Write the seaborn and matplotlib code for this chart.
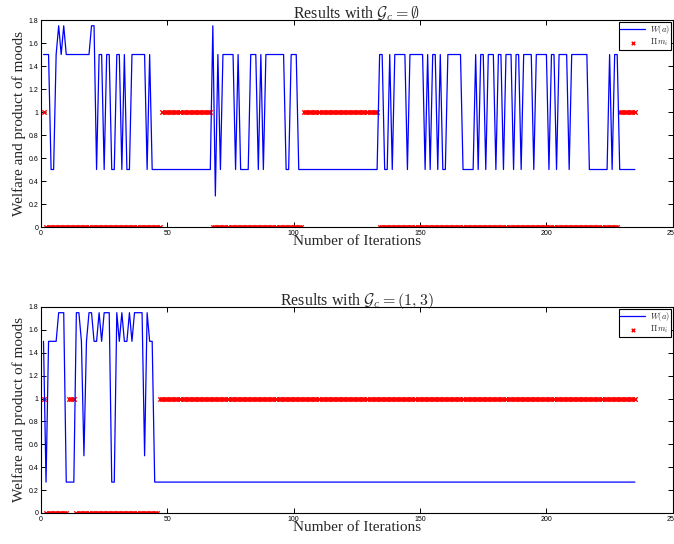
import pandas as pd
import matplotlib
matplotlib.use("Agg")
import matplotlib.pyplot as plt
import seaborn as sns

# welfare W(a) and product of moods, iterations 1..235
welfare_empty = [
    1.5, 1.5, 1.5, 0.5, 0.5, 1.5, 1.75, 1.5, 1.75, 1.5,
    1.5, 1.5, 1.5, 1.5, 1.5, 1.5, 1.5, 1.5, 1.5, 1.75,
    1.75, 0.5, 1.5, 1.5, 0.5, 1.5, 1.5, 0.5, 0.5, 1.5,
    1.5, 0.5, 1.5, 0.5, 0.5, 1.5, 1.5, 1.5, 1.5, 1.5,
    1.5, 0.5, 1.5, 0.5, 0.5, 0.5, 0.5, 0.5, 0.5, 0.5,
    0.5, 0.5, 0.5, 0.5, 0.5, 0.5, 0.5, 0.5, 0.5, 0.5,
    0.5, 0.5, 0.5, 0.5, 0.5, 0.5, 0.5, 1.75, 0.27, 1.5,
    0.5, 1.5, 1.5, 1.5, 1.5, 1.5, 0.5, 1.5, 0.5, 0.5,
    0.5, 0.5, 1.5, 1.5, 1.5, 0.5, 1.5, 0.5, 1.5, 1.5,
    1.5, 1.5, 1.5, 1.5, 1.5, 1.5, 0.5, 0.5, 1.5, 1.5,
    1.5, 0.5, 0.5, 0.5, 0.5, 0.5, 0.5, 0.5, 0.5, 0.5,
    0.5, 0.5, 0.5, 0.5, 0.5, 0.5, 0.5, 0.5, 0.5, 0.5,
    0.5, 0.5, 0.5, 0.5, 0.5, 0.5, 0.5, 0.5, 0.5, 0.5,
    0.5, 0.5, 0.5, 1.5, 1.5, 0.5, 0.5, 1.5, 0.5, 1.5,
    1.5, 1.5, 1.5, 1.5, 0.5, 1.5, 1.5, 1.5, 1.5, 1.5,
    1.5, 0.5, 1.5, 0.5, 1.5, 1.5, 0.5, 1.5, 0.5, 0.5,
    1.5, 1.5, 1.5, 1.5, 1.5, 1.5, 0.5, 0.5, 0.5, 0.5,
    0.5, 1.5, 0.5, 1.5, 1.5, 0.5, 1.5, 1.5, 1.5, 0.5,
    1.5, 1.5, 0.5, 1.5, 1.5, 1.5, 0.5, 1.5, 1.5, 0.5,
    1.5, 1.5, 1.5, 1.5, 0.5, 1.5, 1.5, 1.5, 1.5, 1.5,
    0.5, 1.5, 1.5, 0.5, 1.5, 1.5, 1.5, 1.5, 0.5, 1.5,
    1.5, 1.5, 1.5, 1.5, 1.5, 1.5, 0.5, 0.5, 0.5, 0.5,
    0.5, 0.5, 0.5, 0.5, 1.5, 0.5, 1.5, 1.5, 0.5, 0.5,
    0.5, 0.5, 0.5, 0.5, 0.5,
]
moods_empty = [
    1, 0, 0, 0, 0, 0, 0, 0, 0, 0,
    0, 0, 0, 0, 0, 0, 0, 0, 0, 0,
    0, 0, 0, 0, 0, 0, 0, 0, 0, 0,
    0, 0, 0, 0, 0, 0, 0, 0, 0, 0,
    0, 0, 0, 0, 0, 0, 0, 1, 1, 1,
    1, 1, 1, 1, 1, 1, 1, 1, 1, 1,
    1, 1, 1, 1, 1, 1, 1, 0, 0, 0,
    0, 0, 0, 0, 0, 0, 0, 0, 0, 0,
    0, 0, 0, 0, 0, 0, 0, 0, 0, 0,
    0, 0, 0, 0, 0, 0, 0, 0, 0, 0,
    0, 0, 0, 1, 1, 1, 1, 1, 1, 1,
    1, 1, 1, 1, 1, 1, 1, 1, 1, 1,
    1, 1, 1, 1, 1, 1, 1, 1, 1, 1,
    1, 1, 1, 0, 0, 0, 0, 0, 0, 0,
    0, 0, 0, 0, 0, 0, 0, 0, 0, 0,
    0, 0, 0, 0, 0, 0, 0, 0, 0, 0,
    0, 0, 0, 0, 0, 0, 0, 0, 0, 0,
    0, 0, 0, 0, 0, 0, 0, 0, 0, 0,
    0, 0, 0, 0, 0, 0, 0, 0, 0, 0,
    0, 0, 0, 0, 0, 0, 0, 0, 0, 0,
    0, 0, 0, 0, 0, 0, 0, 0, 0, 0,
    0, 0, 0, 0, 0, 0, 0, 0, 0, 0,
    0, 0, 0, 0, 0, 0, 0, 0, 1, 1,
    1, 1, 1, 1, 1,
]
welfare_13 = [
    1.5, 0.27, 1.5, 1.5, 1.5, 1.5, 1.75, 1.75, 1.75, 0.27,
    0.27, 0.27, 0.27, 1.75, 1.75, 1.5, 0.5, 1.5, 1.75, 1.75,
    1.5, 1.5, 1.75, 1.5, 1.75, 1.75, 1.75, 0.27, 0.27, 1.75,
    1.5, 1.75, 1.5, 1.5, 1.75, 1.5, 1.75, 1.75, 1.75, 1.75,
    0.5, 1.75, 1.5, 1.5, 0.27, 0.27, 0.27, 0.27, 0.27, 0.27,
    0.27, 0.27, 0.27, 0.27, 0.27, 0.27, 0.27, 0.27, 0.27, 0.27,
    0.27, 0.27, 0.27, 0.27, 0.27, 0.27, 0.27, 0.27, 0.27, 0.27,
    0.27, 0.27, 0.27, 0.27, 0.27, 0.27, 0.27, 0.27, 0.27, 0.27,
    0.27, 0.27, 0.27, 0.27, 0.27, 0.27, 0.27, 0.27, 0.27, 0.27,
    0.27, 0.27, 0.27, 0.27, 0.27, 0.27, 0.27, 0.27, 0.27, 0.27,
    0.27, 0.27, 0.27, 0.27, 0.27, 0.27, 0.27, 0.27, 0.27, 0.27,
    0.27, 0.27, 0.27, 0.27, 0.27, 0.27, 0.27, 0.27, 0.27, 0.27,
    0.27, 0.27, 0.27, 0.27, 0.27, 0.27, 0.27, 0.27, 0.27, 0.27,
    0.27, 0.27, 0.27, 0.27, 0.27, 0.27, 0.27, 0.27, 0.27, 0.27,
    0.27, 0.27, 0.27, 0.27, 0.27, 0.27, 0.27, 0.27, 0.27, 0.27,
    0.27, 0.27, 0.27, 0.27, 0.27, 0.27, 0.27, 0.27, 0.27, 0.27,
    0.27, 0.27, 0.27, 0.27, 0.27, 0.27, 0.27, 0.27, 0.27, 0.27,
    0.27, 0.27, 0.27, 0.27, 0.27, 0.27, 0.27, 0.27, 0.27, 0.27,
    0.27, 0.27, 0.27, 0.27, 0.27, 0.27, 0.27, 0.27, 0.27, 0.27,
    0.27, 0.27, 0.27, 0.27, 0.27, 0.27, 0.27, 0.27, 0.27, 0.27,
    0.27, 0.27, 0.27, 0.27, 0.27, 0.27, 0.27, 0.27, 0.27, 0.27,
    0.27, 0.27, 0.27, 0.27, 0.27, 0.27, 0.27, 0.27, 0.27, 0.27,
    0.27, 0.27, 0.27, 0.27, 0.27, 0.27, 0.27, 0.27, 0.27, 0.27,
    0.27, 0.27, 0.27, 0.27, 0.27,
]
moods_13 = [
    1, 0, 0, 0, 0, 0, 0, 0, 0, 0,
    1, 1, 1, 0, 0, 0, 0, 0, 0, 0,
    0, 0, 0, 0, 0, 0, 0, 0, 0, 0,
    0, 0, 0, 0, 0, 0, 0, 0, 0, 0,
    0, 0, 0, 0, 0, 0, 1, 1, 1, 1,
    1, 1, 1, 1, 1, 1, 1, 1, 1, 1,
    1, 1, 1, 1, 1, 1, 1, 1, 1, 1,
    1, 1, 1, 1, 1, 1, 1, 1, 1, 1,
    1, 1, 1, 1, 1, 1, 1, 1, 1, 1,
    1, 1, 1, 1, 1, 1, 1, 1, 1, 1,
    1, 1, 1, 1, 1, 1, 1, 1, 1, 1,
    1, 1, 1, 1, 1, 1, 1, 1, 1, 1,
    1, 1, 1, 1, 1, 1, 1, 1, 1, 1,
    1, 1, 1, 1, 1, 1, 1, 1, 1, 1,
    1, 1, 1, 1, 1, 1, 1, 1, 1, 1,
    1, 1, 1, 1, 1, 1, 1, 1, 1, 1,
    1, 1, 1, 1, 1, 1, 1, 1, 1, 1,
    1, 1, 1, 1, 1, 1, 1, 1, 1, 1,
    1, 1, 1, 1, 1, 1, 1, 1, 1, 1,
    1, 1, 1, 1, 1, 1, 1, 1, 1, 1,
    1, 1, 1, 1, 1, 1, 1, 1, 1, 1,
    1, 1, 1, 1, 1, 1, 1, 1, 1, 1,
    1, 1, 1, 1, 1, 1, 1, 1, 1, 1,
    1, 1, 1, 1, 1,
]

titles = [r"Results with $\mathcal{G}_c = \emptyset$",
          r"Results with $\mathcal{G}_c = (1,3)$"]
xticks = [0, 50, 100, 150, 200, 250]
yticks = [0, 0.2, 0.4, 0.6, 0.8, 1, 1.2, 1.4, 1.6, 1.8]

sns.set_style("ticks")
plt.rcParams["font.family"] = ["Liberation Sans", "DejaVu Sans"]
plt.rcParams["mathtext.fontset"] = "cm"
plt.rcParams["axes.linewidth"] = 0.8

serif = ["Liberation Serif", "DejaVu Serif"]

fig = plt.figure(figsize=(6.74, 5.44), dpi=100)
ax_top = fig.add_axes([0.0608, 0.5827, 0.9374, 0.3805])
ax_bot = fig.add_axes([0.0608, 0.0570, 0.9374, 0.3787])

panels = [(ax_top, welfare_empty, moods_empty, titles[0]),
          (ax_bot, welfare_13, moods_13, titles[1])]

for ax, welfare, moods, title in panels:
    df = pd.DataFrame({
        "iteration": range(1, len(welfare) + 1),
        "welfare": welfare,
        "moods": moods,
    })
    sns.lineplot(data=df, x="iteration", y="welfare", ax=ax, color="blue",
                 lw=0.9, estimator=None, label=r"$W(a)$")
    sns.scatterplot(data=df, x="iteration", y="moods", ax=ax, color="red",
                    marker="x", s=10, linewidth=1.0, label=r"$\Pi\, m_i$")

    ax.set_xlim(0, 250)
    ax.set_ylim(0, 1.8)
    ax.set_xticks(xticks)
    ax.set_yticks(yticks)
    ax.set_xticklabels([f"{t:g}" for t in xticks])
    ax.set_yticklabels([f"{t:g}" for t in yticks])
    ax.tick_params(direction="in", top=True, right=True, length=3.5,
                   width=0.7, labelsize=5, pad=2, colors="black")
    for sp in ax.spines.values():
        sp.set_color("black")
        sp.set_linewidth(0.8)

    ax.set_title(title, fontsize=11.5, family=serif, pad=1.5)
    ax.set_xlabel("Number of Iterations", fontsize=11, family=serif, labelpad=-1)
    ax.set_ylabel("Welfare and product of moods", fontsize=11, family=serif,
                  labelpad=2)

    leg = ax.legend(loc="upper right", fontsize=6, frameon=True, fancybox=False,
                    framealpha=1, edgecolor="black", borderaxespad=0.2,
                    handlelength=3.0, borderpad=0.2, labelspacing=0.05,
                    handletextpad=0.5, markerscale=0.8)
    leg.get_frame().set_linewidth(0.8)

fig.savefig("out.png", dpi=100)
